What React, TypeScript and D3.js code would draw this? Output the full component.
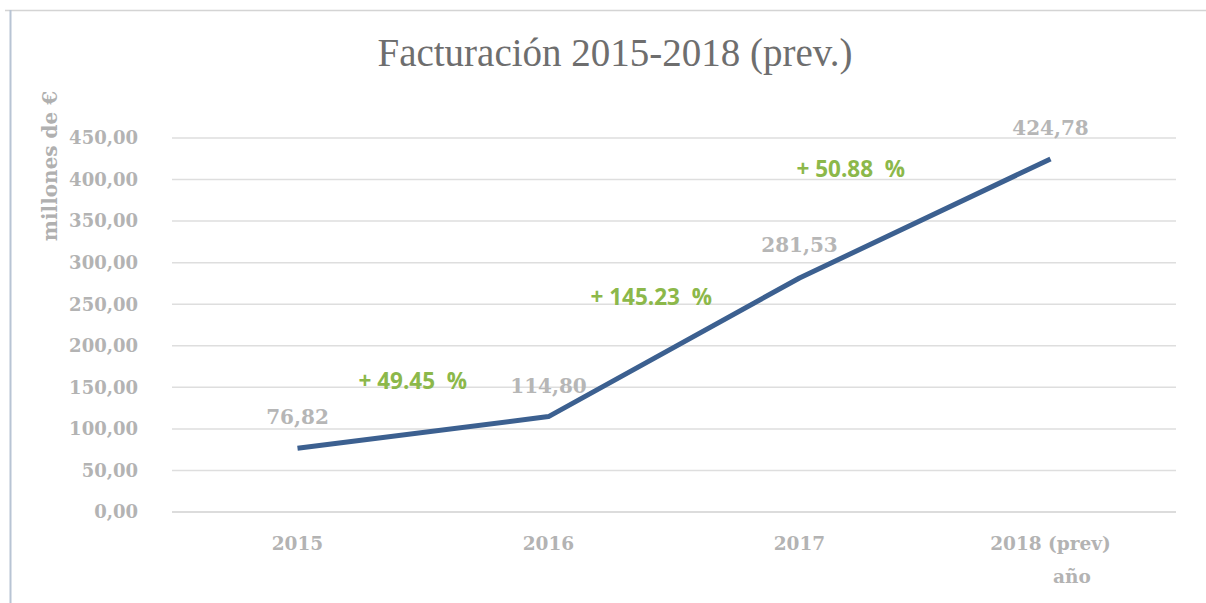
import React from "react";
import * as d3 from "d3";

const categories = ["2015", "2016", "2017", "2018 (prev)"];
const values = [76.82, 114.8, 281.53, 424.78];
const valueLabels = ["76,82", "114,80", "281,53", "424,78"];
const yTicks = [0, 50, 100, 150, 200, 250, 300, 350, 400, 450];
const growthLabels = ["+ 49.45  %", "+ 145.23  %", "+ 50.88  %"];

const W = 1206;
const H = 603;

export default function App() {
  const x = d3
    .scaleBand<string>()
    .domain(categories)
    .range([172, 1176])
    .padding(0);
  const y = d3.scaleLinear().domain([0, 450]).range([512, 138]);
  const cx = (c: string) => (x(c) as number) + x.bandwidth() / 2;
  const line = d3
    .line<number>()
    .x((_, i) => cx(categories[i]))
    .y((d) => y(d));
  const fmt = (v: number) => d3.format(".2f")(v).replace(".", ",");

  const serif = "'DejaVu Serif', 'Liberation Serif', serif";
  const labelOffsets = [
    { dx: 0, dy: -24 },
    { dx: 0, dy: -24 },
    { dx: 0, dy: -26 },
    { dx: 0, dy: -24 },
  ];
  // growth labels positioned between points
  const growthPos = [
    { i: 0, dx: 61, yv: 158 },
    { i: 1, dx: 42, yv: 259 },
    { i: 2, dx: -3, yv: 413 },
  ];

  return (
    <svg
      width={W}
      height={H}
      style={{ position: "absolute", left: 0, top: 0, background: "#fff" }}
    >
      <line x1={5} x2={W} y1={10.5} y2={10.5} stroke="#d4d4d4" strokeWidth={1.5} />
      <line x1={10.5} x2={10.5} y1={10} y2={H} stroke="#b8c4d4" strokeWidth={2} />
      <text
        x={615}
        y={66}
        textAnchor="middle"
        fontFamily="'Liberation Serif', serif"
        fontSize={39}
        fill="#6e6e6e"
      >
        Facturación 2015-2018 (prev.)
      </text>
      <text
        transform="translate(57,166) rotate(-90)"
        textAnchor="middle"
        fontFamily={serif}
        fontWeight="bold"
        fontSize={20}
        fill="#b0b0b0"
      >
        millones de €
      </text>
      {yTicks.map((t) => (
        <g key={t}>
          <line
            x1={172}
            x2={1176}
            y1={y(t)}
            y2={y(t)}
            stroke={t === 0 ? "#d0d0d0" : "#dedede"}
            strokeWidth={1.5}
          />
          <text
            x={138}
            y={y(t)}
            dy="0.35em"
            textAnchor="end"
            fontFamily={serif}
            fontWeight="bold"
            fontSize={18}
            fill="#b3b3b3"
          >
            {fmt(t)}
          </text>
        </g>
      ))}
      {categories.map((c) => (
        <text
          key={c}
          x={cx(c)}
          y={550}
          textAnchor="middle"
          fontFamily={serif}
          fontWeight="bold"
          fontSize={18.5}
          fill="#b3b3b3"
        >
          {c}
        </text>
      ))}
      <text
        x={1072}
        y={583}
        textAnchor="middle"
        fontFamily={serif}
        fontWeight="bold"
        fontSize={18.5}
        fill="#b3b3b3"
      >
        año
      </text>
      <path
        d={line(values) || ""}
        fill="none"
        stroke="#3c6090"
        strokeWidth={5}
        strokeLinejoin="round"
      />
      {values.map((v, i) => (
        <text
          key={i}
          x={cx(categories[i]) + labelOffsets[i].dx}
          y={y(v) + labelOffsets[i].dy}
          textAnchor="middle"
          fontFamily={serif}
          fontWeight="bold"
          fontSize={20}
          fill="#b6b6b6"
        >
          {valueLabels[i]}
        </text>
      ))}
      {growthPos.map((g, k) => (
        <text
          key={k}
          x={cx(categories[g.i]) + g.dx}
          y={y(g.yv) + 8}
          fontFamily="'Open Sans', sans-serif"
          fontWeight="bold"
          fontSize={22.5}
          fill="#8cb84a"
          style={{ whiteSpace: "pre" }}
        >
          {growthLabels[k]}
        </text>
      ))}
    </svg>
  );
}
